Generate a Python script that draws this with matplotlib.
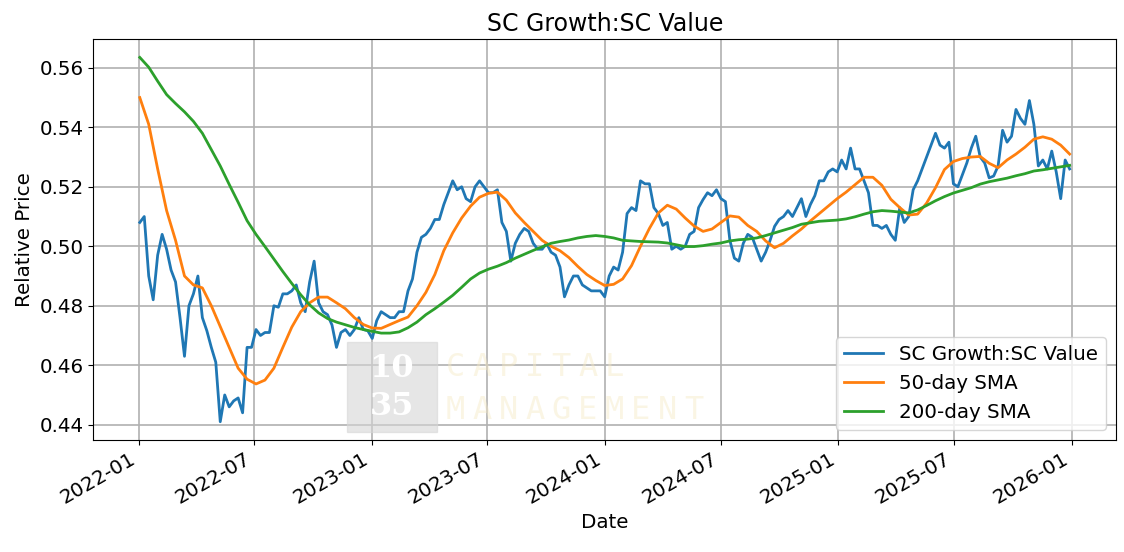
import matplotlib
matplotlib.use("Agg")
import matplotlib.pyplot as plt
import pandas as pd

# weekly closes (Mondays, 2022-01-03 .. 2025-12-29)
ratio = [
    0.508, 0.510, 0.490, 0.482, 0.497, 0.504, 0.499, 0.492, 0.488, 0.476,
    0.463, 0.480, 0.484, 0.490, 0.476, 0.4716, 0.466, 0.461, 0.441, 0.450,
    0.446, 0.448, 0.449, 0.444, 0.466, 0.466, 0.472, 0.470, 0.471, 0.471,
    0.480, 0.4795, 0.484, 0.484, 0.485, 0.487, 0.481, 0.478, 0.488, 0.495,
    0.481, 0.478, 0.477, 0.4735, 0.466, 0.471, 0.472, 0.470, 0.472, 0.476,
    0.472, 0.4716, 0.469, 0.475, 0.478, 0.477, 0.476, 0.476, 0.478, 0.478,
    0.485, 0.489, 0.498, 0.503, 0.504, 0.506, 0.509, 0.509, 0.514, 0.518,
    0.522, 0.519, 0.520, 0.516, 0.515, 0.520, 0.522, 0.520, 0.518, 0.518,
    0.519, 0.508, 0.505, 0.495, 0.501, 0.504, 0.506, 0.505, 0.501, 0.499,
    0.499, 0.501, 0.498, 0.497, 0.493, 0.483, 0.487, 0.490, 0.490, 0.487,
    0.486, 0.485, 0.485, 0.485, 0.483, 0.490, 0.493, 0.492, 0.498, 0.511,
    0.513, 0.512, 0.522, 0.521, 0.521, 0.513, 0.511, 0.507, 0.508, 0.499,
    0.500, 0.499, 0.500, 0.504, 0.505, 0.513, 0.5157, 0.518, 0.517, 0.519,
    0.516, 0.515, 0.502, 0.496, 0.495, 0.501, 0.504, 0.503, 0.499, 0.495,
    0.498, 0.502, 0.5067, 0.509, 0.510, 0.512, 0.510, 0.513, 0.516, 0.510,
    0.514, 0.517, 0.522, 0.522, 0.525, 0.526, 0.525, 0.529, 0.526, 0.533,
    0.526, 0.526, 0.522, 0.518, 0.507, 0.507, 0.506, 0.507, 0.504, 0.502,
    0.513, 0.508, 0.510, 0.519, 0.522, 0.526, 0.530, 0.534, 0.538, 0.534,
    0.533, 0.535, 0.521, 0.520, 0.524, 0.528, 0.533, 0.537, 0.530, 0.528,
    0.523, 0.5236, 0.527, 0.539, 0.535, 0.537, 0.546, 0.543, 0.541, 0.549,
    0.541, 0.527, 0.529, 0.526, 0.532, 0.525, 0.516, 0.529, 0.526,
]

# moving averages every two weeks
sma50 = [
    0.550, 0.541, 0.526, 0.512, 0.502, 0.490, 0.487, 0.486, 0.480, 0.473,
    0.466, 0.459, 0.4553, 0.4537, 0.455, 0.459, 0.466, 0.4728, 0.478, 0.481,
    0.4829, 0.4829, 0.481, 0.479, 0.476, 0.4737, 0.4725, 0.4724, 0.4737, 0.475,
    0.4762, 0.480, 0.4845, 0.4905, 0.4985, 0.5045, 0.5095, 0.5135, 0.5165, 0.5178,
    0.5182, 0.5155, 0.5112, 0.508, 0.505, 0.502, 0.500, 0.4985, 0.4962, 0.4932,
    0.4905, 0.4885, 0.4868, 0.4872, 0.489, 0.4935, 0.500, 0.506, 0.5112, 0.5138,
    0.5125, 0.5095, 0.5068, 0.505, 0.5058, 0.508, 0.5102, 0.5098, 0.507, 0.505,
    0.5018, 0.4995, 0.501, 0.5035, 0.5058, 0.5085, 0.511, 0.5135, 0.516, 0.5182,
    0.5207, 0.5232, 0.5232, 0.5205, 0.5158, 0.513, 0.5105, 0.5108, 0.5145, 0.5197,
    0.5258, 0.5285, 0.5295, 0.530, 0.5302, 0.5279, 0.5264, 0.529, 0.531, 0.5333,
    0.536, 0.5368, 0.536, 0.534, 0.531,
]

sma200 = [
    0.5635, 0.5602, 0.5555, 0.551, 0.548, 0.5452, 0.542, 0.538, 0.5325, 0.527,
    0.5208, 0.5148, 0.5086, 0.504, 0.4999, 0.4957, 0.4915, 0.4875, 0.4837, 0.4803,
    0.4776, 0.4757, 0.4745, 0.4736, 0.4727, 0.472, 0.4714, 0.4708, 0.4708, 0.4712,
    0.4726, 0.4745, 0.477, 0.479, 0.4812, 0.4835, 0.4862, 0.489, 0.491, 0.4923,
    0.4933, 0.4945, 0.496, 0.4973, 0.4986, 0.4998, 0.501, 0.5016, 0.5021, 0.5028,
    0.5033, 0.5036, 0.5033, 0.5028, 0.502, 0.5018, 0.5016, 0.5015, 0.5014, 0.5011,
    0.5005, 0.4999, 0.4999, 0.5002, 0.5007, 0.5011, 0.5018, 0.5022, 0.5024, 0.5028,
    0.5036, 0.5045, 0.5054, 0.5063, 0.5074, 0.5079, 0.5084, 0.5086, 0.5088, 0.5092,
    0.5099, 0.5108, 0.5116, 0.512, 0.5118, 0.5115, 0.5112, 0.5122, 0.5137, 0.5153,
    0.5167, 0.5179, 0.5188, 0.5197, 0.5209, 0.5217, 0.5223, 0.5229, 0.5237, 0.5244,
    0.5253, 0.5257, 0.5262, 0.5267, 0.5272,
]

weeks = pd.date_range("2022-01-03", periods=len(ratio), freq="7D")
fortnights = pd.date_range("2022-01-03", periods=len(sma50), freq="14D")

fig, ax = plt.subplots(figsize=(11.24, 5.52), dpi=100)

ax.plot(weeks, ratio, color="#1f77b4", lw=2, label="SC Growth:SC Value")
ax.plot(fortnights, sma50, color="#ff7f0e", lw=2, label="50-day SMA")
ax.plot(fortnights, sma200, color="#2ca02c", lw=2, label="200-day SMA")

ax.set_title("SC Growth:SC Value", fontsize=17)
ax.set_xlabel("Date", fontsize=14.3)
ax.set_ylabel("Relative Price", fontsize=14.3)
ax.tick_params(labelsize=14.3)
ax.grid(True, color="#b0b0b0", lw=1.2)
ax.legend(loc="lower right", fontsize=14.3)
fig.autofmt_xdate()
fig.subplots_adjust(left=0.083, right=0.993, top=0.929, bottom=0.203)

# faint "10 35 capital management" watermark
fig.patches.append(plt.Rectangle((0.3085, 0.218), 0.080, 0.163, transform=fig.transFigure,
                                 color="#d6d6d6", alpha=0.6, zorder=5))
fig.text(0.3485, 0.333, "10", color="white", fontsize=23, fontweight="bold",
         family="DejaVu Serif", ha="center", va="center", zorder=6)
fig.text(0.3485, 0.263, "35", color="white", fontsize=23, fontweight="bold",
         family="DejaVu Serif", ha="center", va="center", zorder=6)
for word, yf in [("CAPITAL", 0.335), ("MANAGEMENT", 0.257)]:
    for i, ch in enumerate(word):
        fig.text(0.405 + i * 0.0236, yf, ch, color="#f5e9c4", alpha=0.45, fontsize=23,
                 family="DejaVu Sans Mono", ha="center", va="center", zorder=6)

fig.savefig("out.png", dpi=100)
